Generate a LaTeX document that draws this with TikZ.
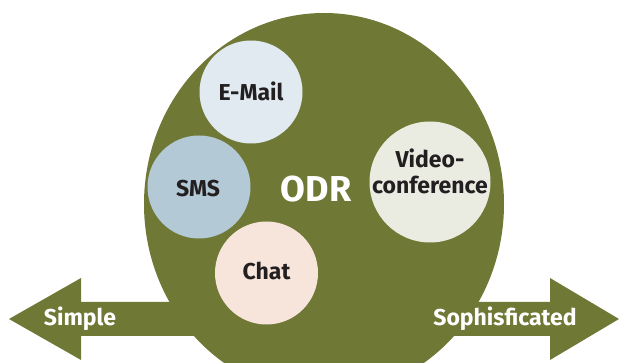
\documentclass[tikz,border=0pt]{standalone}
\usepackage{fontspec}
\setmainfont{Fira Sans}
\definecolor{olive}{HTML}{6F7834}
\definecolor{mailfill}{HTML}{E1EAF0}
\definecolor{smsfill}{HTML}{B3C9D6}
\definecolor{chatfill}{HTML}{F7E5DC}
\definecolor{videofill}{HTML}{EAEBE1}
\definecolor{inktext}{HTML}{231F20}
\begin{document}
\begin{tikzpicture}[
	x=1pt,y=-1pt,
	line join=miter,
	bubble/.style={circle,inner sep=0pt,minimum size=103pt},
	bubbletext/.style={anchor=base,inner sep=0pt,font=\bfseries\fontsize{23}{26}\selectfont,text=inktext},
	whitetext/.style={anchor=base,inner sep=0pt,font=\bfseries\fontsize{23}{26}\selectfont,text=white}
	]
	\useasboundingbox (0,0) rectangle (619,363);
	% double arrow from simple to sophisticated
	\fill[olive] (9,319) -- (81,278) -- (81,302) -- (550,302) -- (550,278) -- (619,319)
		-- (550,360) -- (550,336) -- (81,336) -- (81,360) -- cycle;
	% the big ODR disc
	\fill[olive] (324,204) ellipse [x radius=180, y radius=191];
	\node[whitetext,font=\bfseries\fontsize{36}{40}\selectfont] (odr) at (316,202) {ODR};
	% channels
	\node[bubble,fill=mailfill] (mail) at (251,92) {};
	\node[bubble,fill=smsfill] (sms) at (199,187) {};
	\node[bubble,fill=chatfill] (chat) at (266.5,273) {};
	\node[bubble,fill=videofill,minimum size=121pt] (video) at (430,182) {};
	\node[bubbletext] (mailtext) at (251,101) {E-Mail};
	\node[bubbletext] (smstext) at (198,197) {SMS};
	\node[bubbletext] (chattext) at (266.5,280) {Chat};
	\node[bubbletext] (videotext) at (430,168) {Video-};
	\node[bubbletext] (conftext) at (430,194) {conference};
	% ends of the scale
	\node[whitetext] (simple) at (80,326) {Simple};
	\node[whitetext] (sophis) at (505,326) {Sophisficated};
\end{tikzpicture}
\end{document}
